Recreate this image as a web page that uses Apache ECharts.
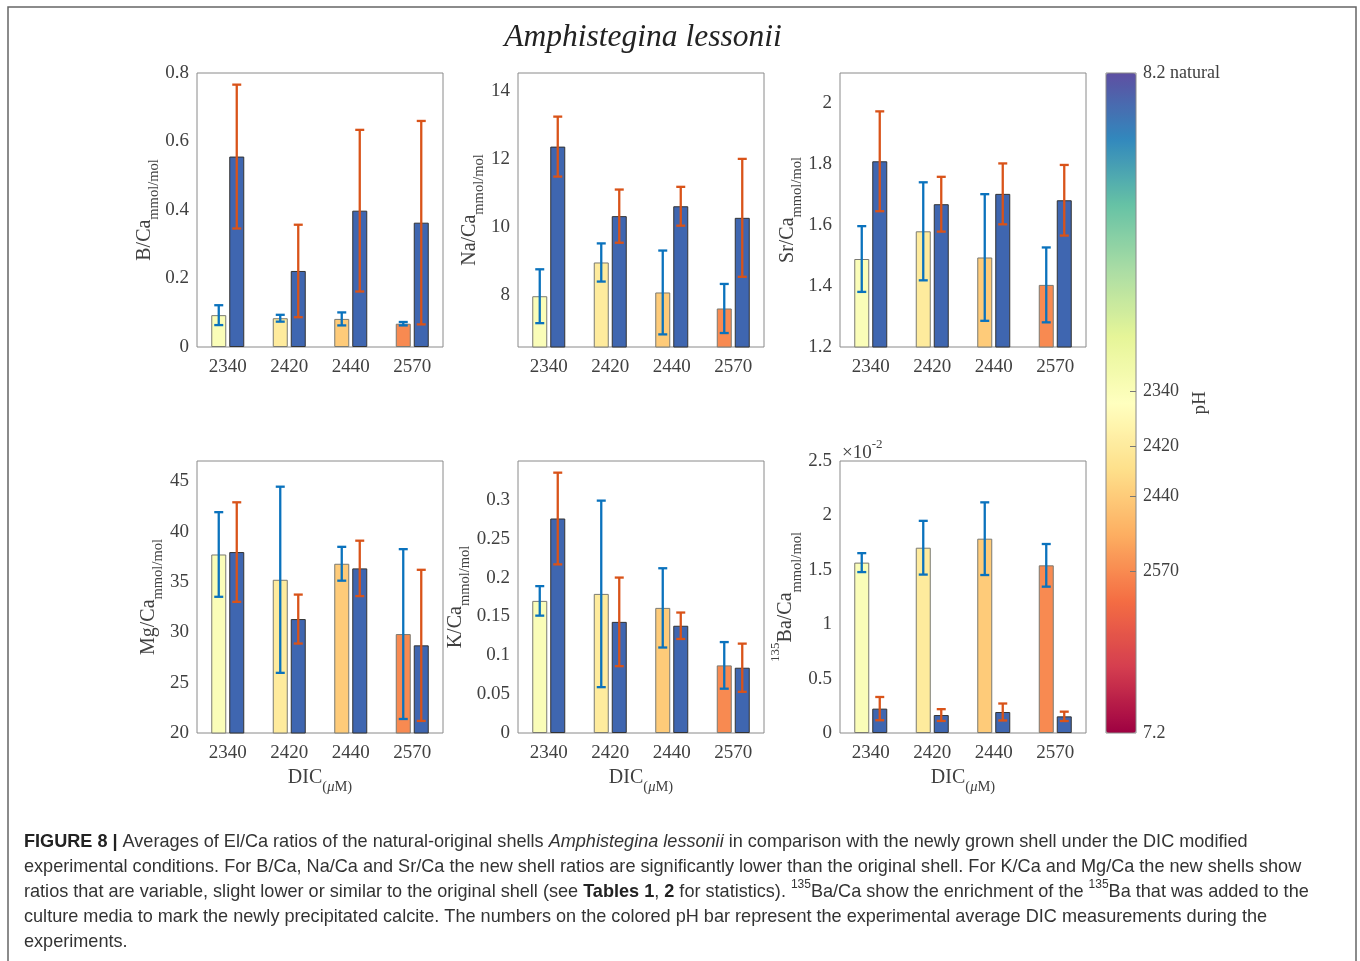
<!DOCTYPE html>
<html>
<head>
<meta charset="utf-8">
<script src="https://cdn.jsdelivr.net/npm/echarts@6/dist/echarts.min.js"></script>
<style>
  html, body { margin: 0; padding: 0; background: #fff; }
  #main { width: 1360px; height: 961px; }
</style>
</head>
<body>
<div id="main"></div>
<script>
const dic = ['2340', '2420', '2440', '2570']
// pH of each treatment, used to pick the bar colour from the colour bar
const phLevel = [7.718, 7.635, 7.558, 7.445]

const bNew = [0.093, 0.084, 0.082, 0.068]
const bNewErr = [0.029, 0.010, 0.019, 0.005]
const bOrig = [0.556, 0.222, 0.398, 0.363]
const bOrigErr = [0.210, 0.135, 0.236, 0.297]
const bTicks = [0, 0.2, 0.4, 0.6, 0.8]

const naNew = [7.97, 8.96, 8.08, 7.61]
const naNewErr = [0.79, 0.56, 1.23, 0.72]
const naOrig = [12.36, 10.32, 10.61, 10.27]
const naOrigErr = [0.88, 0.78, 0.57, 1.73]
const naTicks = [8, 10, 12, 14]

const srNew = [1.489, 1.580, 1.494, 1.404]
const srNewErr = [0.108, 0.161, 0.208, 0.123]
const srOrig = [1.810, 1.669, 1.703, 1.682]
const srOrigErr = [0.164, 0.090, 0.100, 0.116]
const srTicks = [1.2, 1.4, 1.6, 1.8, 2]

const mgNew = [37.72, 35.21, 36.80, 29.82]
const mgNewErr = [4.20, 9.24, 1.68, 8.43]
const mgOrig = [37.96, 31.31, 36.34, 28.70]
const mgOrigErr = [4.94, 2.43, 2.75, 7.50]
const mgTicks = [20, 25, 30, 35, 40, 45]

const kNew = [0.170, 0.179, 0.161, 0.087]
const kNewErr = [0.019, 0.120, 0.051, 0.030]
const kOrig = [0.276, 0.143, 0.138, 0.084]
const kOrigErr = [0.059, 0.057, 0.017, 0.031]
const kTicks = [0, 0.05, 0.1, 0.15, 0.2, 0.25, 0.3]

// 135Ba/Ca in units of 1e-2
const baNew = [1.566, 1.703, 1.786, 1.541]
const baNewErr = [0.087, 0.247, 0.334, 0.196]
const baOrig = [0.224, 0.165, 0.193, 0.153]
const baOrigErr = [0.107, 0.054, 0.078, 0.043]
const baTicks = [0, 0.5, 1, 1.5, 2, 2.5]

const cbValues = [7.2, 7.445, 7.558, 7.635, 7.718, 8.2]
const cbLabels = ['7.2', '2570', '2440', '2420', '2340', '8.2 natural']

const spectral = ['#9e0142', '#d53e4f', '#f46d43', '#fdae61', '#fee08b', '#ffffbf',
    '#e6f598', '#abdda4', '#66c2a5', '#3288bd', '#5e4fa2']

const serif = '"Liberation Serif", "DejaVu Serif", serif'
const sans = '"Liberation Sans", Arial, sans-serif'
const axisGray = '#8a8a8a'
const textGray = '#404040'
const origBlue = '#3f66b0'
const newErrColor = '#0a72bd'
const origErrColor = '#d95319'

const panels = [
    { name: '{m|B/Ca}{sub|mmol/mol}', nv: bNew, ne: bNewErr, ov: bOrig, oe: bOrigErr, min: 0, max: 0.8, ticks: bTicks },
    { name: '{m|Na/Ca}{sub|mmol/mol}', nv: naNew, ne: naNewErr, ov: naOrig, oe: naOrigErr, min: 6.48, max: 14.52, ticks: naTicks },
    { name: '{m|Sr/Ca}{sub|mmol/mol}', nv: srNew, ne: srNewErr, ov: srOrig, oe: srOrigErr, min: 1.2, max: 2.1, ticks: srTicks },
    { name: '{m|Mg/Ca}{sub|mmol/mol}', nv: mgNew, ne: mgNewErr, ov: mgOrig, oe: mgOrigErr, min: 20, max: 47, ticks: mgTicks },
    { name: '{m|K/Ca}{sub|mmol/mol}', nv: kNew, ne: kNewErr, ov: kOrig, oe: kOrigErr, min: 0, max: 0.35, ticks: kTicks },
    { name: '{sup|135}{mb|Ba/Ca}{subb|mmol/mol}', nv: baNew, ne: baNewErr, ov: baOrig, oe: baOrigErr, min: 0, max: 2.5, ticks: baTicks },
]

const colLeft = [197, 518, 840]
const rowTop = [73, 461]
const rowHeight = [274, 272]
const barW = 15
const barOffset = 9

const nameRich = {
    m: { fontFamily: serif, fontSize: 20, color: textGray, lineHeight: 18, verticalAlign: 'top' },
    sub: { fontFamily: serif, fontSize: 14.5, color: textGray, lineHeight: 14, padding: [12, 0, 0, 0], verticalAlign: 'top' },
    subi: { fontFamily: serif, fontSize: 14.5, fontStyle: 'italic', color: textGray, lineHeight: 14, padding: [12, 0, 0, 0], verticalAlign: 'top' },
    sup: { fontFamily: serif, fontSize: 13, color: textGray, lineHeight: 10, verticalAlign: 'top' },
    mb: { fontFamily: serif, fontSize: 20, color: textGray, lineHeight: 18, padding: [6, 0, 0, 0], verticalAlign: 'top' },
    subb: { fontFamily: serif, fontSize: 14.5, color: textGray, lineHeight: 14, padding: [20, 0, 0, 0], verticalAlign: 'top' },
}

function errorBars(offset, color) {
    return function (params, api) {
        const i = api.value(0)
        const v = api.value(1)
        const e = api.value(2)
        const x = api.coord([i, v])[0] + offset
        const yHi = api.coord([i, v + e])[1]
        const yLo = api.coord([i, v - e])[1]
        const cap = 4.5
        const st = { stroke: color, lineWidth: 2.3 }
        return {
            type: 'group',
            children: [
                { type: 'line', shape: { x1: x, y1: yHi, x2: x, y2: yLo }, style: st },
                { type: 'line', shape: { x1: x - cap, y1: yHi, x2: x + cap, y2: yHi }, style: st },
                { type: 'line', shape: { x1: x - cap, y1: yLo, x2: x + cap, y2: yLo }, style: st },
            ],
        }
    }
}

let grid = []
let xAxis = []
let yAxis = []
let series = []
let newBarSeries = []

panels.forEach((p, k) => {
    const row = Math.floor(k / 3)
    const col = k % 3
    grid.push({
        left: colLeft[col], top: rowTop[row], width: 246, height: rowHeight[row],
        show: true, borderColor: axisGray, borderWidth: 1, backgroundColor: 'transparent',
    })
    const bottomRow = row === 1
    xAxis.push({
        gridIndex: k, type: 'category', data: dic, position: 'bottom',
        axisLine: { show: false },
        axisTick: { inside: true, alignWithLabel: true, length: 5, lineStyle: { color: axisGray } },
        axisLabel: { fontFamily: serif, fontSize: 19, color: textGray, margin: 11 },
        name: bottomRow ? '{m|DIC}{sub|(}{subi|μ}{sub|M)}' : '',
        nameLocation: 'middle', nameGap: 35,
        nameTextStyle: { rich: nameRich },
    })
    xAxis.push({
        gridIndex: k, type: 'category', data: dic, position: 'top',
        axisLine: { show: false },
        axisTick: { inside: true, alignWithLabel: true, length: 5, lineStyle: { color: axisGray } },
        axisLabel: { show: false },
    })
    yAxis.push({
        gridIndex: k, type: 'value', min: p.min, max: p.max, position: 'left',
        axisLine: { show: false },
        splitLine: { show: false },
        axisTick: { inside: true, length: 5, customValues: p.ticks, lineStyle: { color: axisGray } },
        axisLabel: { fontFamily: serif, fontSize: 19, color: textGray, margin: 8, customValues: p.ticks },
        name: p.name, nameLocation: 'middle', nameRotate: 90, nameGap: 40,
        nameTextStyle: { rich: nameRich },
    })
    yAxis.push({
        gridIndex: k, type: 'value', min: p.min, max: p.max, position: 'right',
        axisLine: { show: false },
        splitLine: { show: false },
        axisTick: { inside: true, length: 5, customValues: p.ticks, lineStyle: { color: axisGray } },
        axisLabel: { show: false },
    })
    const xi = k * 2
    const yi = k * 2
    newBarSeries.push(series.length)
    series.push({
        type: 'bar', xAxisIndex: xi, yAxisIndex: yi, barWidth: barW, barGap: '20%',
        encode: { x: 0, y: 1 },
        itemStyle: { borderColor: '#7a7a72', borderWidth: 1 },
        data: p.nv.map((v, i) => [i, v, phLevel[i]]),
    })
    series.push({
        type: 'bar', xAxisIndex: xi, yAxisIndex: yi, barWidth: barW, barGap: '20%',
        encode: { x: 0, y: 1 },
        itemStyle: { color: origBlue, borderColor: '#333', borderWidth: 1 },
        data: p.ov.map((v, i) => [i, v]),
    })
    series.push({
        type: 'custom', xAxisIndex: xi, yAxisIndex: yi, z: 5,
        encode: { x: 0, y: 1 },
        renderItem: errorBars(-barOffset, newErrColor),
        data: p.nv.map((v, i) => [i, v, p.ne[i]]),
    })
    series.push({
        type: 'custom', xAxisIndex: xi, yAxisIndex: yi, z: 5,
        encode: { x: 0, y: 1 },
        renderItem: errorBars(barOffset, origErrColor),
        data: p.ov.map((v, i) => [i, v, p.oe[i]]),
    })
})

// colour bar axis, laid over the visualMap bar
const cbGrid = grid.length
grid.push({ left: 1106, top: 73, width: 30, height: 660, show: true, borderColor: '#888', borderWidth: 1, backgroundColor: 'transparent', z: 10 })
xAxis.push({ gridIndex: cbGrid, type: 'value', min: 0, max: 1, show: false })
yAxis.push({
    gridIndex: cbGrid, type: 'value', min: 7.2, max: 8.2, position: 'right', z: 10,
    axisLine: { show: false, onZero: false },
    splitLine: { show: false },
    axisTick: { inside: true, length: 6, customValues: cbValues.slice(1, 5), lineStyle: { color: '#777' } },
    axisLabel: {
        fontFamily: serif, fontSize: 18, color: textGray, margin: 7, customValues: cbValues,
        formatter: (v) => {
            let best = 0
            cbValues.forEach((c, i) => { if (Math.abs(c - v) < Math.abs(cbValues[best] - v)) best = i })
            return cbLabels[best]
        },
    },
    name: 'pH', nameLocation: 'middle', nameRotate: 90, nameGap: 55, nameMoveOverlap: false,
    nameTextStyle: { fontFamily: serif, fontSize: 19, color: textGray },
})

const chart = echarts.init(document.getElementById('main'))
chart.setOption({
    animation: false,
    backgroundColor: '#fff',
    title: {
        text: 'Amphistegina lessonii', left: 638, top: 17, textAlign: 'center',
        textStyle: { fontFamily: serif, fontStyle: 'italic', fontWeight: 'normal', fontSize: 31.5, color: '#222' },
    },
    visualMap: {
        type: 'continuous', min: 7.2, max: 8.2, dimension: 2, seriesIndex: newBarSeries,
        calculable: false, hoverLink: false, padding: 0,
        left: 1106, top: 73, itemWidth: 30, itemHeight: 660,
        text: null, showLabel: false,
        inRange: { color: spectral },
    },
    grid, xAxis, yAxis, series,
    graphic: [
        {
            type: 'rect', silent: true,
            shape: { x: 8, y: 7, width: 1348, height: 1000 },
            style: { fill: 'none', stroke: '#666', lineWidth: 1.5 },
        },
        {
            type: 'text', left: 842, top: 438,
            style: {
                text: '{a|×10}{s|-2}',
                rich: {
                    a: { fontFamily: serif, fontSize: 19, fill: textGray, lineHeight: 18, padding: [6, 0, 0, 0], verticalAlign: 'top' },
                    s: { fontFamily: serif, fontSize: 13, fill: textGray, lineHeight: 10, verticalAlign: 'top' },
                },
            },
        },
        {
            type: 'text', left: 24, top: 829,
            style: {
                text: '{b|FIGURE 8 |} Averages of El/Ca ratios of the natural-original shells {i|Amphistegina lessonii} in comparison with the newly grown shell under the DIC modified\n' +
                    'experimental conditions. For B/Ca, Na/Ca and Sr/Ca the new shell ratios are significantly lower than the original shell. For K/Ca and Mg/Ca the new shells show\n' +
                    'ratios that are variable, slight lower or similar to the original shell (see {b|Tables 1}, {b|2} for statistics). {s|135}Ba/Ca show the enrichment of the {s|135}Ba that was added to the\n' +
                    'culture media to mark the newly precipitated calcite. The numbers on the colored pH bar represent the experimental average DIC measurements during the\n' +
                    'experiments.',
                fontFamily: sans, fontSize: 18.1, fill: '#333', lineHeight: 25,
                rich: {
                    b: { fontFamily: sans, fontSize: 18.1, fontWeight: 'bold', fill: '#222', lineHeight: 25 },
                    i: { fontFamily: sans, fontSize: 18.1, fontStyle: 'italic', fill: '#333', lineHeight: 25 },
                    s: { fontFamily: sans, fontSize: 12, fill: '#333', lineHeight: 12, verticalAlign: 'top' },
                },
            },
        },
    ],
})
</script>
</body>
</html>
